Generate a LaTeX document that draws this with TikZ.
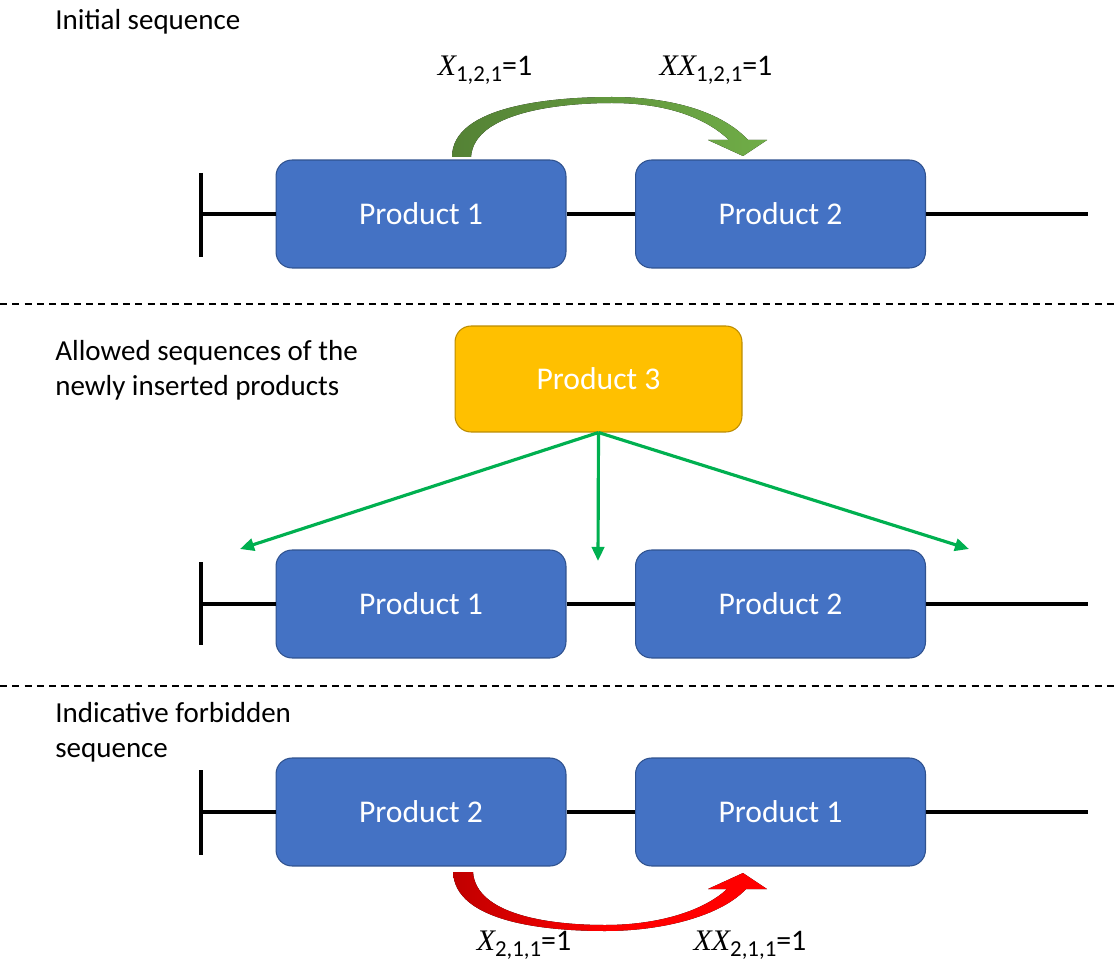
\documentclass[tikz,border=0pt]{standalone}
\usepackage{fontspec}
\setmainfont{Carlito}
\newfontfamily\mathserif{Liberation Serif}
\usetikzlibrary{arrows.meta}
\definecolor{prodblue}{HTML}{4472C4}
\definecolor{prodedge}{HTML}{2F528F}
\definecolor{prodorange}{HTML}{FFC000}
\definecolor{orangeedge}{HTML}{BC8C00}
\definecolor{flowgreen}{HTML}{00B050}
\definecolor{leafgreen}{HTML}{70AD47}
\definecolor{darkleaf}{HTML}{548235}
\definecolor{darkred}{HTML}{C00000}
\newcommand{\varlab}[2]{{\mathserif\itshape #1}\raisebox{-0.4ex}{\fontsize{13}{15}\selectfont #2}=1}
\begin{document}
\begin{tikzpicture}[x=0.02cm,y=-0.02cm,
  prodbox/.style={draw=prodedge,fill=prodblue,line width=0.6pt,rounded corners=0.32cm,
    minimum width=5.8cm,minimum height=2.16cm,text=white,font=\fontsize{18}{21}\selectfont},
  newbox/.style={prodbox,draw=orangeedge,fill=prodorange,minimum width=5.74cm,minimum height=2.12cm},
  seqline/.style={line width=2pt,black},
  sectionlab/.style={anchor=west,align=left,font=\fontsize{16.5}{20}\selectfont,inner sep=0pt},
  varlabel/.style={font=\fontsize{17}{19}\selectfont,inner sep=0pt},
  divider/.style={dashed,line width=0.9pt,dash pattern=on 4pt off 3pt},
  insert/.style={flowgreen,line width=1.8pt,-{Triangle[length=8pt,width=7pt]}}]
\useasboundingbox (0,0) rectangle (1115,969);

% section headings
\node[sectionlab] (h1) at (55,22) {Initial sequence};
\node[sectionlab] (h2) at (55,370) {Allowed sequences of the\\newly inserted products};
\node[sectionlab] (h3) at (55,732) {Indicative forbidden\\sequence};

% dividers
\coordinate (d1a) at (0,304); \coordinate (d1b) at (1115,304);
\coordinate (d2a) at (0,686); \coordinate (d2b) at (1115,686);
\draw[divider] (d1a) -- (d1b);
\draw[divider] (d2a) -- (d2b);

% row 1: initial sequence
\node[prodbox] (a1) at (421,214) {Product 1};
\node[prodbox] (a2) at (780.5,214) {Product 2};
\coordinate (a0) at (201,214); \coordinate (aend) at (1088,214);
\coordinate (at1) at (201,173); \coordinate (at2) at (201,257);
\draw[seqline] (at1) -- (at2);
\draw[seqline] (a0) -- (a1.west);
\draw[seqline] (a1.east) -- (a2.west);
\draw[seqline] (a2.east) -- (aend);

% curved arrow over row 1
\fill[left color=darkleaf,right color=leafgreen]
  (452,157) .. controls (452,105) and (555,97) .. (612,97)
  .. controls (672,97) and (722,112) .. (748,140)
  -- (767,140) -- (743,156) -- (708,140) -- (729,140)
  .. controls (705,117) and (665,103) .. (612,103)
  .. controls (560,103) and (474,112) .. (471,157) -- cycle;
\node[varlabel] (xa) at (485,70) {\varlab{X}{1,2,1}};
\node[varlabel] (xxa) at (716,70) {\varlab{XX}{1,2,1}};

% row 2: allowed insertions
\node[newbox] (p3) at (598.5,379) {Product 3};
\node[prodbox] (b1) at (421,604) {Product 1};
\node[prodbox] (b2) at (780.5,604) {Product 2};
\coordinate (b0) at (201,604); \coordinate (bend) at (1088,604);
\coordinate (bt1) at (201,562); \coordinate (bt2) at (201,645);
\draw[seqline] (bt1) -- (bt2);
\draw[seqline] (b0) -- (b1.west);
\draw[seqline] (b1.east) -- (b2.west);
\draw[seqline] (b2.east) -- (bend);
\coordinate (ins1) at (240,549);
\coordinate (ins2) at (598,561);
\coordinate (ins3) at (969,549);
\draw[insert] (p3.south) -- (ins1);
\draw[insert] (p3.south) -- (ins2);
\draw[insert] (p3.south) -- (ins3);

% row 3: forbidden sequence
\node[prodbox] (c1) at (421,812) {Product 2};
\node[prodbox] (c2) at (780.5,812) {Product 1};
\coordinate (c0) at (201,812); \coordinate (cend) at (1088,812);
\coordinate (ct1) at (201,770); \coordinate (ct2) at (201,855);
\draw[seqline] (ct1) -- (ct2);
\draw[seqline] (c0) -- (c1.west);
\draw[seqline] (c1.east) -- (c2.west);
\draw[seqline] (c2.east) -- (cend);

% curved arrow under row 3
\fill[left color=darkred,right color=red,middle color=red]
  (453,872) .. controls (455,922) and (545,931) .. (605,931)
  .. controls (665,931) and (722,915) .. (746,889)
  -- (767,889) -- (743,873) -- (708,889) -- (727,889)
  .. controls (705,910) and (660,925) .. (605,925)
  .. controls (550,925) and (476,915) .. (473,872) -- cycle;
\node[varlabel] (xc) at (524,945) {\varlab{X}{2,1,1}};
\node[varlabel] (xxc) at (750,945) {\varlab{XX}{2,1,1}};
\end{tikzpicture}
\end{document}
